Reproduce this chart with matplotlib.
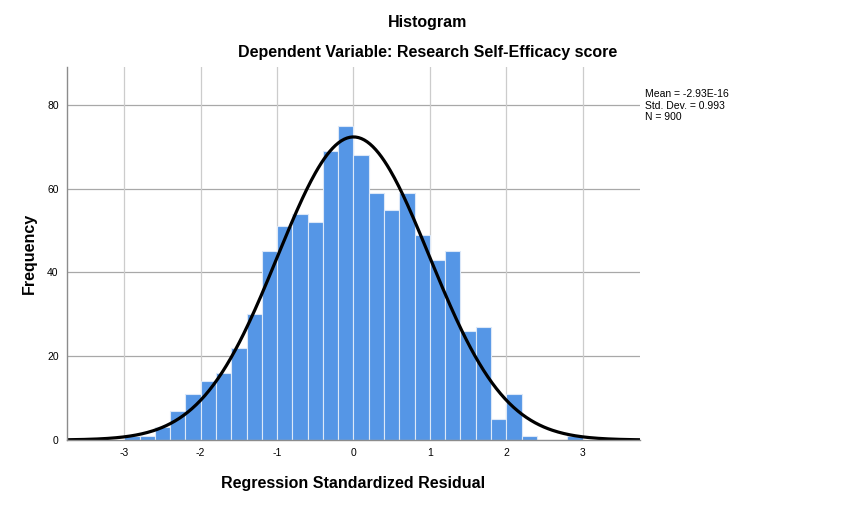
import numpy as np
import matplotlib
matplotlib.use("Agg")
import matplotlib.pyplot as plt

plt.rcParams['font.family'] = ['Liberation Sans', 'DejaVu Sans']

# histogram of standardized residuals, bins of width 0.2 starting at -3.0
bin_start = -3.0
bin_width = 0.2
counts = [1, 1, 3, 7, 11, 14, 16, 22, 30, 45, 51, 54, 52, 69, 75,
          68, 59, 55, 59, 49, 43, 45, 26, 27, 5, 11, 1, 0, 0, 1]

mean = -2.93e-16
std = 0.993
n = 900

x_ticks = [-3, -2, -1, 0, 1, 2, 3]
y_ticks = [0, 20, 40, 60, 80]

fig = plt.figure(figsize=(8.55, 5.05), dpi=100)
ax = fig.add_axes([0.0784, 0.1287, 0.6701, 0.7386])

lefts = bin_start + bin_width * np.arange(len(counts))
ax.bar(lefts, counts, width=bin_width, align='edge', color='#5596e6',
       edgecolor='#dce8f8', linewidth=0.8, zorder=2)

# normal curve from the reported mean / sd
xs = np.linspace(-3.75, 3.75, 400)
ys = n * bin_width / (std * np.sqrt(2 * np.pi)) * np.exp(-0.5 * ((xs - mean) / std) ** 2)
ax.plot(xs, ys, color='black', linewidth=2.3, zorder=3, solid_capstyle='butt')

ax.set_xlim(-3.75, 3.75)
ax.set_ylim(0, 89)
ax.set_xticks(x_ticks)
ax.set_xticklabels([str(t) for t in x_ticks])
ax.set_yticks(y_ticks)
ax.tick_params(length=0, labelsize=7.5, pad=6)

for t in y_ticks[1:]:
    ax.axhline(t, color='#a8a8a8', linewidth=0.9, zorder=1)
for t in x_ticks:
    ax.axvline(t, color='#cccccc', linewidth=0.9, zorder=1)

for s in ['top', 'right']:
    ax.spines[s].set_visible(False)
for s in ['left', 'bottom']:
    ax.spines[s].set_color('#8c8c8c')
    ax.spines[s].set_linewidth(1.0)
    ax.spines[s].set_zorder(4)

ax.set_xlabel('Regression Standardized Residual', fontsize=11.5, fontweight='bold', labelpad=13)
ax.set_ylabel('Frequency', fontsize=11.5, fontweight='bold', labelpad=7)

fig.text(0.5, 1 - 22 / 505, 'Histogram', ha='center', va='center',
         fontsize=11.5, fontweight='bold')
fig.text(0.5, 1 - 53 / 505, 'Dependent Variable: Research Self-Efficacy score',
         ha='center', va='center', fontsize=11.5, fontweight='bold')

fig.text(645 / 855, 1 - 89 / 505,
         'Mean = -2.93E-16\nStd. Dev. = 0.993\nN = 900',
         ha='left', va='top', fontsize=7.5, linespacing=1.2)

fig.savefig('out.png', dpi=100)
